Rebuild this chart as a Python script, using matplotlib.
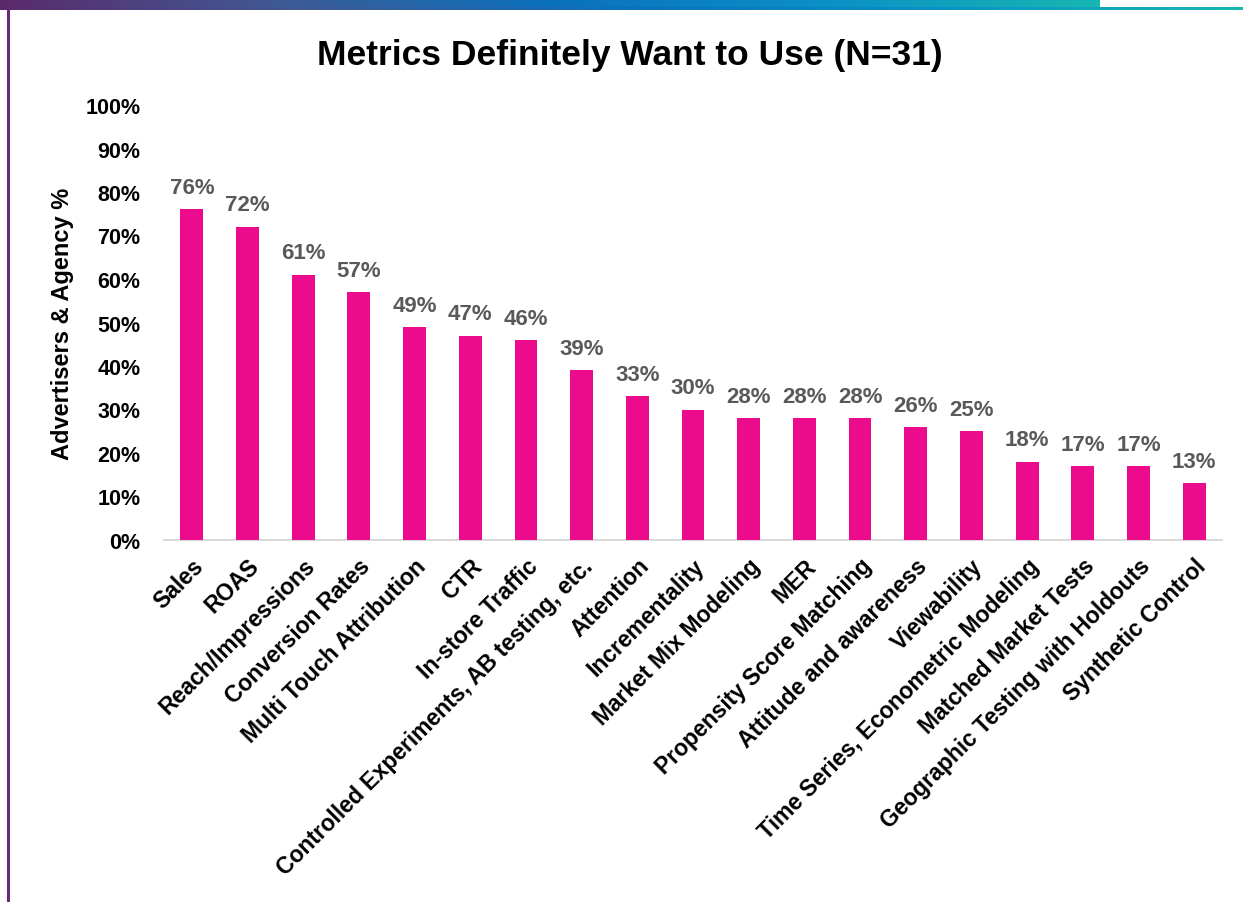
import numpy as np
import matplotlib.pyplot as plt
from matplotlib.colors import LinearSegmentedColormap
from matplotlib.lines import Line2D
from matplotlib.ticker import PercentFormatter

plt.rcParams['font.family'] = ['Liberation Sans', 'DejaVu Sans']

metrics = [
    "Sales", "ROAS", "Reach/Impressions", "Conversion Rates",
    "Multi Touch Attribution", "CTR", "In-store Traffic",
    "Controlled Experiments, AB testing, etc.", "Attention",
    "Incrementality", "Market Mix Modeling", "MER",
    "Propensity Score Matching", "Attitude and awareness", "Viewability",
    "Time Series, Econometric Modeling", "Matched Market Tests",
    "Geographic Testing with Holdouts", "Synthetic Control",
]
pct = [76, 72, 61, 57, 49, 47, 46, 39, 33, 30, 28, 28, 28, 26, 25, 18, 17, 17, 13]

W, H = 1243, 903
fig = plt.figure(figsize=(W / 100, H / 100), dpi=100)

# header band across the top
band = LinearSegmentedColormap.from_list(
    "band", ["#5b2a6c", "#3f5a94", "#0a70bd", "#0a90c6", "#18b7b2"])
bax = fig.add_axes([0, 1 - 8 / H, 1100 / W, 8 / H])
bax.imshow(np.linspace(0, 1, 256)[None, :], cmap=band, aspect="auto")
bax.axis("off")
lax = fig.add_axes([0, 1 - 11 / H, 1, 3 / H])
lax.imshow(np.linspace(0.4, 1, 256)[None, :], cmap=band, aspect="auto")
lax.axis("off")

# left border rule
fig.add_artist(Line2D([7.5 / W, 7.5 / W], [0, 1 - 11 / H], color="#6a2a78", lw=2.2))

ax = fig.add_axes([164 / W, (H - 541) / H, (1222 - 164) / W, (541 - 106) / H])
x = np.arange(len(metrics))
ax.bar(x, pct, width=0.41, color="#ec0b8c", zorder=3)

for xi, v in zip(x, pct):
    ax.text(xi, v + 2.6, f"{v}%", ha="center", va="bottom",
            fontsize=16, fontweight="bold", color="#595959")

ax.set_xlim(-0.5, len(metrics) - 0.5)
ax.set_ylim(0, 100)
ax.set_yticks(np.arange(0, 101, 10))
ax.yaxis.set_major_formatter(PercentFormatter(decimals=0))
ax.tick_params(axis="y", length=0, pad=17, labelsize=15.5)
for lbl in ax.get_yticklabels():
    lbl.set_fontweight("bold")

ax.set_xticks(x)
ax.set_xticklabels(metrics, rotation=45, ha="right", rotation_mode="anchor",
                   fontsize=16.5, fontweight="bold")
ax.tick_params(axis="x", length=0, pad=10)

for s in ["top", "right", "left"]:
    ax.spines[s].set_visible(False)
ax.spines["bottom"].set_color("#d9d9d9")
ax.spines["bottom"].set_linewidth(1.5)

ax.set_ylabel("Advertisers & Agency %", fontsize=17, fontweight="bold", labelpad=8)
fig.text(630 / W, 1 - 56 / H, "Metrics Definitely Want to Use (N=31)",
         ha="center", va="center", fontsize=25.5, fontweight="bold")

fig.savefig("out.png", dpi=100, facecolor="white")
